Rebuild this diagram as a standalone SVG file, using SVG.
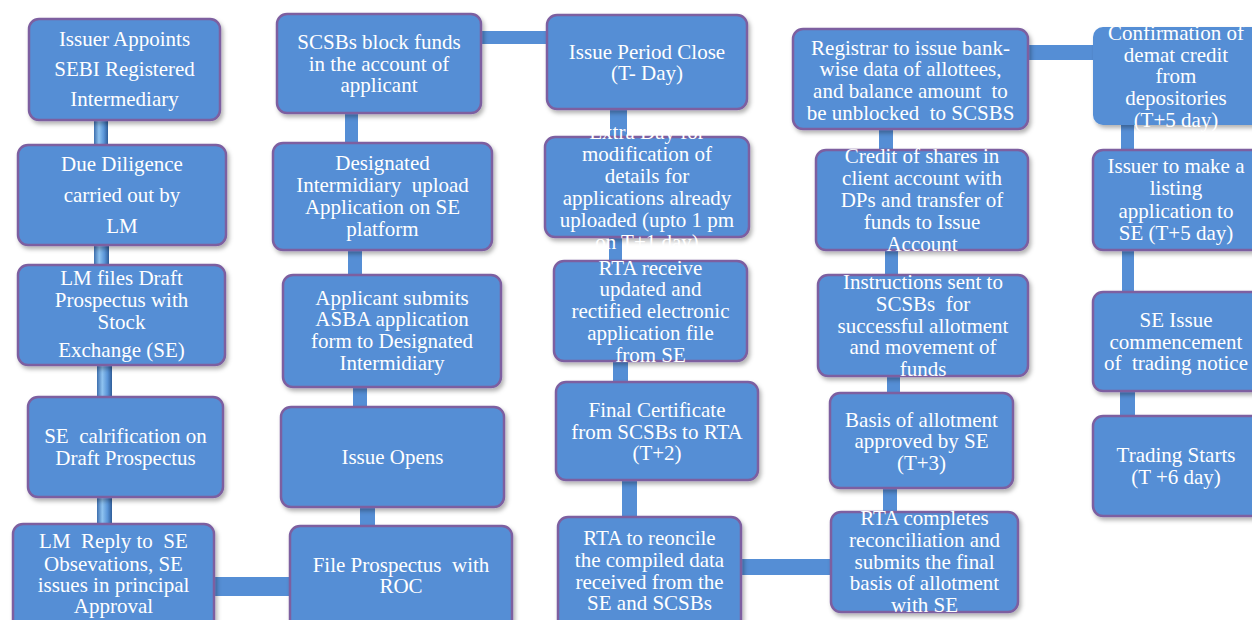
<svg xmlns="http://www.w3.org/2000/svg" width="1252" height="620" viewBox="0 0 1252 620">
<defs>
<style>
.box{fill:#558ED5;stroke:#7D5FA0;stroke-width:2.5;filter:url(#sh)}
.nob{fill:#558ED5;stroke:none;filter:url(#sh)}
.t{font-family:"Liberation Serif","Times New Roman",serif;font-size:21px;fill:#ffffff;text-anchor:middle;white-space:pre}
.c{fill:#558ED5}
.cg{fill:url(#cyl)}
</style>
<filter id="sh" x="-10%" y="-10%" width="125%" height="130%">
<feDropShadow dx="2" dy="3" stdDeviation="2" flood-color="#000" flood-opacity="0.3"/>
</filter>
<linearGradient id="cyl" x1="0" y1="0" x2="1" y2="0">
<stop offset="0" stop-color="#3d6fae"/>
<stop offset="0.35" stop-color="#8fc3f0"/>
<stop offset="0.7" stop-color="#5a95d8"/>
<stop offset="1" stop-color="#2f5d99"/>
</linearGradient>
</defs>
<rect width="1252" height="620" fill="#ffffff"/>
<g id="connectors">
<rect class="cg" x="94" y="115" width="14" height="35"/>
<rect class="cg" x="94" y="240" width="15" height="30"/>
<rect class="cg" x="97" y="360" width="15" height="42"/>
<rect class="cg" x="97" y="492" width="15" height="37"/>
<rect class="c" x="209" y="577" width="86" height="19"/>
<rect class="c" x="345" y="108" width="13" height="40"/>
<rect class="c" x="348" y="245" width="14" height="35"/>
<rect class="c" x="353" y="382" width="14" height="30"/>
<rect class="c" x="360" y="502" width="15" height="29"/>
<rect class="c" x="476" y="31" width="76" height="13"/>
<rect class="c" x="610" y="104" width="17" height="38"/>
<rect class="c" x="609" y="232" width="13" height="34"/>
<rect class="c" x="613" y="356" width="15" height="31"/>
<rect class="c" x="622" y="475" width="15" height="47"/>
<rect class="c" x="736" y="559" width="100" height="16"/>
<rect class="c" x="879" y="124" width="14" height="31"/>
<rect class="c" x="885" y="245" width="13" height="35"/>
<rect class="c" x="887" y="371" width="13" height="27"/>
<rect class="c" x="883" y="483" width="14" height="34"/>
<rect class="c" x="1023" y="45" width="75" height="15"/>
<rect class="c" x="1121" y="120" width="13" height="35"/>
<rect class="c" x="1122" y="245" width="12" height="52"/>
<rect class="c" x="1120" y="386" width="15" height="35"/>
</g>
<g id="n1"><rect class="box" x="29" y="19" width="191" height="101" rx="10"/>
<text class="t" x="124.5" y="46">Issuer Appoints</text><text class="t" x="124.5" y="76">SEBI Registered</text><text class="t" x="124.5" y="106">Intermediary</text></g>
<g id="n2"><rect class="box" x="18" y="145" width="208" height="100" rx="10"/>
<text class="t" x="122" y="171">Due Diligence</text><text class="t" x="122" y="202">carried out by</text><text class="t" x="122" y="233">LM</text></g>
<g id="n3"><rect class="box" x="18" y="265" width="207" height="100" rx="10"/>
<text class="t" x="121.5" y="285">LM files Draft</text><text class="t" x="121.5" y="307">Prospectus with</text><text class="t" x="121.5" y="329">Stock</text><text class="t" x="121.5" y="357">Exchange (SE)</text></g>
<g id="n4"><rect class="box" x="28" y="397" width="195" height="100" rx="10"/>
<text class="t" x="125.5" y="443">SE  calrification on</text><text class="t" x="125.5" y="465">Draft Prospectus</text></g>
<g id="n5"><rect class="box" x="13" y="524" width="201" height="110" rx="10"/>
<text class="t" x="113.5" y="548">LM  Reply to  SE</text><text class="t" x="113.5" y="571">Obsevations, SE</text><text class="t" x="113.5" y="592">issues in principal</text><text class="t" x="113.5" y="613">Approval</text></g>
<g id="n6"><rect class="box" x="277" y="14" width="204" height="99" rx="10"/>
<text class="t" x="379" y="49">SCSBs block funds</text><text class="t" x="379" y="71">in the account of</text><text class="t" x="379" y="92">applicant</text></g>
<g id="n7"><rect class="box" x="273" y="143" width="219" height="107" rx="10"/>
<text class="t" x="382.5" y="170">Designated</text><text class="t" x="382.5" y="192">Intermidiary  upload</text><text class="t" x="382.5" y="214">Application on SE</text><text class="t" x="382.5" y="236">platform</text></g>
<g id="n8"><rect class="box" x="283" y="275" width="218" height="112" rx="10"/>
<text class="t" x="392" y="305">Applicant submits</text><text class="t" x="392" y="326">ASBA application</text><text class="t" x="392" y="348">form to Designated</text><text class="t" x="392" y="370">Intermidiary</text></g>
<g id="n9"><rect class="box" x="281" y="407" width="223" height="100" rx="10"/>
<text class="t" x="392.5" y="464">Issue Opens</text></g>
<g id="n10"><rect class="box" x="290" y="526" width="222" height="110" rx="10"/>
<text class="t" x="401" y="572">File Prospectus  with</text><text class="t" x="401" y="593">ROC</text></g>
<g id="n11"><rect class="box" x="547" y="15" width="200" height="94" rx="10"/>
<text class="t" x="647" y="59">Issue Period Close</text><text class="t" x="647" y="80">(T- Day)</text></g>
<g id="n12"><rect class="box" x="545" y="137" width="204" height="100" rx="10"/>
<text class="t" x="647" y="139">Extra Day for</text><text class="t" x="647" y="161">modification of</text><text class="t" x="647" y="183">details for</text><text class="t" x="647" y="205">applications already</text><text class="t" x="647" y="227">uploaded (upto 1 pm</text><text class="t" x="647" y="249">on T+1 day)</text></g>
<g id="n13"><rect class="box" x="554" y="261" width="193" height="100" rx="10"/>
<text class="t" x="650.5" y="275">RTA receive</text><text class="t" x="650.5" y="296">updated and</text><text class="t" x="650.5" y="318">rectified electronic</text><text class="t" x="650.5" y="340">application file</text><text class="t" x="650.5" y="362">from SE</text></g>
<g id="n14"><rect class="box" x="556" y="382" width="202" height="98" rx="10"/>
<text class="t" x="657" y="417">Final Certificate</text><text class="t" x="657" y="439">from SCSBs to RTA</text><text class="t" x="657" y="460">(T+2)</text></g>
<g id="n15"><rect class="box" x="558" y="517" width="183" height="115" rx="10"/>
<text class="t" x="649.5" y="545">RTA to reoncile</text><text class="t" x="649.5" y="567">the compiled data</text><text class="t" x="649.5" y="589">received from the</text><text class="t" x="649.5" y="610">SE and SCSBs</text></g>
<g id="n16"><rect class="box" x="793" y="29" width="235" height="100" rx="10"/>
<text class="t" x="910.5" y="55">Registrar to issue bank-</text><text class="t" x="910.5" y="76">wise data of allottees,</text><text class="t" x="910.5" y="98">and balance amount  to</text><text class="t" x="910.5" y="120">be unblocked  to SCSBS</text></g>
<g id="n17"><rect class="box" x="816" y="150" width="212" height="100" rx="10"/>
<text class="t" x="922" y="163">Credit of shares in</text><text class="t" x="922" y="185">client account with</text><text class="t" x="922" y="207">DPs and transfer of</text><text class="t" x="922" y="229">funds to Issue</text><text class="t" x="922" y="251">Account</text></g>
<g id="n18"><rect class="box" x="818" y="275" width="210" height="101" rx="10"/>
<text class="t" x="923" y="289">Instructions sent to</text><text class="t" x="923" y="311">SCSBs  for</text><text class="t" x="923" y="333">successful allotment</text><text class="t" x="923" y="354">and movement of</text><text class="t" x="923" y="376">funds</text></g>
<g id="n19"><rect class="box" x="830" y="393" width="183" height="95" rx="10"/>
<text class="t" x="921.5" y="427">Basis of allotment</text><text class="t" x="921.5" y="448">approved by SE</text><text class="t" x="921.5" y="470">(T+3)</text></g>
<g id="n20"><rect class="box" x="831" y="512" width="187" height="100" rx="10"/>
<text class="t" x="924.5" y="525">RTA completes</text><text class="t" x="924.5" y="547">reconciliation and</text><text class="t" x="924.5" y="569">submits the final</text><text class="t" x="924.5" y="590">basis of allotment</text><text class="t" x="924.5" y="612">with SE</text></g>
<g id="n21"><rect class="nob" x="1093" y="27" width="170" height="98" rx="10"/>
<text class="t" x="1176" y="40">Confirmation of</text><text class="t" x="1176" y="62">demat credit</text><text class="t" x="1176" y="83">from</text><text class="t" x="1176" y="105">depositories</text><text class="t" x="1176" y="127">(T+5 day)</text></g>
<g id="n22"><rect class="box" x="1093" y="150" width="170" height="100" rx="10"/>
<text class="t" x="1176" y="173">Issuer to make a</text><text class="t" x="1176" y="195">listing</text><text class="t" x="1176" y="218">application to</text><text class="t" x="1176" y="240">SE (T+5 day)</text></g>
<g id="n23"><rect class="box" x="1093" y="292" width="170" height="99" rx="10"/>
<text class="t" x="1176" y="327">SE Issue</text><text class="t" x="1176" y="349">commencement</text><text class="t" x="1176" y="370">of  trading notice</text></g>
<g id="n24"><rect class="box" x="1093" y="416" width="170" height="100" rx="10"/>
<text class="t" x="1176" y="462">Trading Starts</text><text class="t" x="1176" y="484">(T +6 day)</text></g>
</svg>
